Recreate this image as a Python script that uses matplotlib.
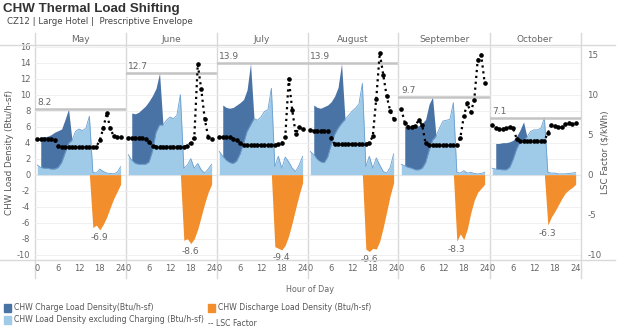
import numpy as np
import matplotlib
matplotlib.use("Agg")
import matplotlib.pyplot as plt
from matplotlib.lines import Line2D

plt.rcParams["axes.unicode_minus"] = False

months = ["May", "June", "July", "August", "September", "October"]
hours = np.arange(25)
x_ticks = [0, 6, 12, 18, 24]
left_ticks = list(range(-10, 17, 2))
right_ticks = [-10, -5, 0, 5, 10, 15]

# CHW load density excluding charging (Btu/h-sf), one list per month
excl_charging = [
    [1.2, 0.9, 0.8, 0.8, 0.7, 0.7, 0.9, 1.5, 2.7, 3.9, 4.3, 5.4, 5.7, 5.5, 5.8, 7.3, 0.3, 0.2, 0.7, 0.4, 0.2, 0.15, 0.1, 0.3, 1.0],
    [2.5, 1.8, 1.4, 1.3, 1.3, 1.3, 1.6, 3.0, 5.3, 6.2, 6.2, 6.8, 7.2, 7.0, 7.4, 10.0, 0.8, 1.2, 2.0, 0.8, 1.4, 0.6, 0.2, 0.7, 1.3],
    [2.9, 2.3, 1.8, 1.5, 1.4, 1.7, 2.6, 3.9, 5.4, 6.2, 7.0, 6.8, 7.2, 7.9, 8.1, 10.8, 1.0, 2.3, 0.8, 2.2, 1.6, 0.8, 0.4, 1.2, 2.3],
    [2.9, 2.5, 1.9, 1.6, 1.5, 2.2, 3.7, 5.0, 5.8, 6.4, 6.9, 7.4, 7.9, 8.3, 8.8, 11.4, 1.0, 2.3, 0.8, 2.1, 1.2, 0.4, 0.2, 0.9, 2.6],
    [1.3, 1.1, 0.9, 0.8, 0.6, 0.6, 0.8, 1.5, 3.0, 4.3, 4.8, 5.8, 6.7, 6.8, 6.9, 9.0, 0.3, 0.2, 0.5, 0.2, 0.3, 0.15, 0.1, 0.15, 0.3],
    [0.8, 0.7, 0.65, 0.6, 0.6, 0.9, 1.9, 3.2, 4.1, 4.3, 4.7, 5.4, 5.6, 5.6, 5.8, 7.1, 0.3, 0.2, 0.2, 0.1, 0.1, 0.1, 0.15, 0.2, 0.25],
]

# CHW charge load density (stacked on top), None = no charging
charge = [
    [None, 3.8, 3.95, 4.0, 4.3, 4.6, 4.6, 4.2, 4.2, 4.3, 0] + [None] * 14,
    [None, 5.9, 6.2, 6.5, 6.9, 7.3, 7.6, 6.9, 5.5, 6.5, 0] + [None] * 14,
    [None, 6.4, 6.6, 6.8, 7.0, 7.0, 6.4, 5.5, 5.2, 7.7, 0] + [None] * 14,
    [None, 6.2, 6.5, 6.7, 7.0, 6.5, 5.4, 4.8, 5.1, 7.5, 0] + [None] * 14,
    [None, 5.0, 5.0, 5.1, 5.4, 5.5, 5.6, 5.4, 5.8, 5.4, 0] + [None] * 14,
    [None, 3.2, 3.25, 3.4, 3.4, 3.2, 2.4, 1.6, 1.5, 2.3, 0] + [None] * 14,
]

# CHW discharge load density (negative), None = no discharge
discharge = [
    [None] * 15 + [0, -6.6, -6.3, -6.9, -6.2, -5.3, -4.1, -3.0, -2.1, -1.2],
    [None] * 15 + [0, -8.2, -8.0, -8.6, -8.0, -6.8, -5.2, -3.6, -2.2, -1.2],
    [None] * 15 + [0, -9.0, -9.2, -9.4, -8.8, -7.6, -6.0, -4.2, -2.5, -1.0],
    [None] * 15 + [0, -9.3, -9.6, -9.2, -9.3, -8.3, -6.6, -4.6, -2.6, -1.0],
    [None] * 15 + [0, -8.3, -7.4, -8.1, -6.8, -4.8, -3.2, -2.2, -1.7, -1.2],
    [None] * 15 + [0, -6.3, -5.3, -4.6, -3.8, -3.0, -2.3, -1.9, -1.6, -1.2],
]

# LSC factor ($/kWh)
lsc = [
    [4.4, 4.4, 4.4, 4.4, 4.4, 4.3, 3.6, 3.4, 3.4, 3.4, 3.4, 3.4, 3.4, 3.4, 3.4, 3.4, 3.4, 3.5, 4.3, 5.8, 7.7, 5.8, 4.8, 4.7, 4.7],
    [4.6, 4.6, 4.6, 4.6, 4.6, 4.5, 4.1, 3.6, 3.5, 3.5, 3.5, 3.5, 3.5, 3.5, 3.5, 3.5, 3.5, 3.6, 4.0, 4.6, 13.8, 10.7, 7.0, 4.7, 4.5],
    [4.7, 4.7, 4.7, 4.7, 4.5, 4.3, 3.9, 3.7, 3.7, 3.7, 3.7, 3.7, 3.7, 3.7, 3.7, 3.7, 3.7, 3.8, 3.9, 4.7, 12.0, 8.1, 5.1, 5.9, 5.7],
    [5.6, 5.5, 5.5, 5.5, 5.5, 5.4, 4.6, 3.8, 3.8, 3.8, 3.8, 3.8, 3.8, 3.8, 3.8, 3.8, 3.8, 4.0, 4.8, 9.5, 15.2, 12.5, 9.8, 8.0, 7.0],
    [8.2, 6.5, 6.0, 6.0, 6.1, 6.8, 6.2, 3.9, 3.7, 3.7, 3.7, 3.7, 3.7, 3.7, 3.7, 3.7, 3.7, 4.6, 7.3, 8.9, 7.8, 9.3, 14.3, 15.0, 11.5],
    [6.2, 5.8, 5.7, 5.7, 5.8, 5.9, 5.8, 4.5, 4.25, 4.25, 4.25, 4.25, 4.25, 4.25, 4.25, 4.25, 5.2, 6.2, 6.1, 5.9, 5.9, 6.3, 6.4, 6.3, 6.4],
]

DARK = "#4a73a5"
LIGHT = "#a0cbe8"
LIGHT_EDGE = "#6a9fd0"
ORANGE = "#f28e2b"
GRAY_TXT = "#666666"
GRID = "#eeeeee"
DIVIDER = "#d9d9d9"

W, H = 624, 331
fig = plt.figure(figsize=(W / 100, H / 100), dpi=100)

p_left, p_right, p_top, p_bot = 34.5, 580.5, 45, 260
pw = (p_right - p_left) / len(months)
ylim = (-10.66, 16.2)

fig.text(3 / W, 1 - 3 / H, "CHW Thermal Load Shifting", fontsize=9.6,
         fontweight="bold", family="Liberation Sans", color="#333333", va="top", ha="left")
fig.text(7 / W, 1 - 22 / H, "CZ12 | Large Hotel |  Prescriptive Envelope",
         fontsize=6.2, color="#444444", va="center", ha="left")

for y in (p_top, p_bot):
    fig.add_artist(Line2D([0, 615 / W], [1 - y / H, 1 - y / H],
                          color=DIVIDER, lw=1.0, transform=fig.transFigure))

for i, month in enumerate(months):
    ax = fig.add_axes([(p_left + i * pw) / W, 1 - p_bot / H, pw / W, (p_bot - p_top) / H])
    light = np.array(excl_charging[i], dtype=float)
    chg = np.array(charge[i], dtype=float)
    dis = np.array(discharge[i], dtype=float)
    total = light + chg

    ax.fill_between(hours, 0, light, color=LIGHT, lw=0, zorder=2)
    ax.plot(hours, light, color=LIGHT_EDGE, lw=0.6, zorder=2.5)
    ax.fill_between(hours, light, total, where=~np.isnan(chg), color=DARK, lw=0, zorder=2)
    ax.fill_between(hours, 0, dis, where=~np.isnan(dis), color=ORANGE, lw=0, zorder=2)

    ax.set_xlim(-0.8, 25.4)
    ax.set_ylim(*ylim)
    ax.set_yticks(left_ticks)
    ax.yaxis.grid(True, color=GRID, lw=0.6, zorder=0)
    ax.axhline(0, color="#cccccc", lw=0.8, zorder=1)
    for s in ax.spines.values():
        s.set_visible(False)
    ax.set_xticks(x_ticks)
    ax.tick_params(length=0, labelsize=6.0, labelcolor=GRAY_TXT, pad=3)
    if i > 0:
        ax.tick_params(labelleft=False)

    # panel dividers
    ax.axvline(ax.get_xlim()[0], ymin=-0.085, ymax=1.055, color=DIVIDER, lw=1.0, clip_on=False, zorder=1)
    if i == len(months) - 1:
        ax.axvline(ax.get_xlim()[1], ymin=-0.085, ymax=1.055, color=DIVIDER, lw=1.0, clip_on=False, zorder=1)

    ax.text(0.5, 1 + 5.5 / (p_bot - p_top), month, transform=ax.transAxes, ha="center",
            va="center", fontsize=6.5, color=GRAY_TXT)

    # max reference line and label
    mx = max(np.nanmax(total), np.nanmax(light))
    ax.axhline(mx, color="#c4c4c4", lw=1.8, zorder=3)
    ax.text(0.03, mx + 0.25, f"{mx:.1f}", transform=ax.get_yaxis_transform(),
            ha="left", va="bottom", fontsize=6.5, color=GRAY_TXT)

    # min discharge label
    mn_i = int(np.nanargmin(dis))
    ax.annotate(f"{dis[mn_i]:.1f}", xy=(hours[mn_i], dis[mn_i]), xytext=(0, -2.5),
                textcoords="offset points", ha="center", va="top", fontsize=6.5, color=GRAY_TXT)

    ax2 = ax.twinx()
    ax2.plot(hours, lsc[i], color="black", ls=":", lw=1.6, marker="o", ms=2.3, zorder=5)
    ax2.set_ylim(*ylim)
    ax2.set_yticks(right_ticks)
    for s in ax2.spines.values():
        s.set_visible(False)
    ax2.tick_params(length=0, labelsize=6.3, labelcolor=GRAY_TXT, pad=5)
    if i < len(months) - 1:
        ax2.tick_params(labelright=False)

mid_y = 1 - (p_top + p_bot) / 2 / H
fig.text(10 / W, mid_y, "CHW Load Density (Btu/h-sf)", rotation=90, fontsize=6.3,
         color="#555555", ha="center", va="center")
fig.text(605 / W, mid_y, "LSC Factor ($/kWh)", rotation=90, fontsize=6.3,
         color="#555555", ha="center", va="center")
fig.text(310 / W, 1 - 290 / H, "Hour of Day", fontsize=5.8, color=GRAY_TXT, ha="center", va="center")

# legend
legend_rows = [
    (DARK, "CHW Charge Load Density(Btu/h-sf)", 4, 307.5),
    (LIGHT, "CHW Load Density excluding Charging (Btu/h-sf)", 4, 319.5),
    (ORANGE, "CHW Discharge Load Density (Btu/h-sf)", 208, 307.5),
]
for color, label, x0, y0 in legend_rows:
    fig.patches.append(plt.Rectangle((x0 / W, 1 - (y0 + 4) / H), 7 / W, 8 / H,
                                     color=color, transform=fig.transFigure, figure=fig))
    fig.text((x0 + 10) / W, 1 - y0 / H, label, fontsize=5.6, color="#555555", va="center", ha="left")
fig.text(208 / W, 1 - 324 / H, "-- LSC Factor", fontsize=5.6, color="#555555", va="center", ha="left")

fig.savefig("out.png", dpi=100, facecolor="white")
